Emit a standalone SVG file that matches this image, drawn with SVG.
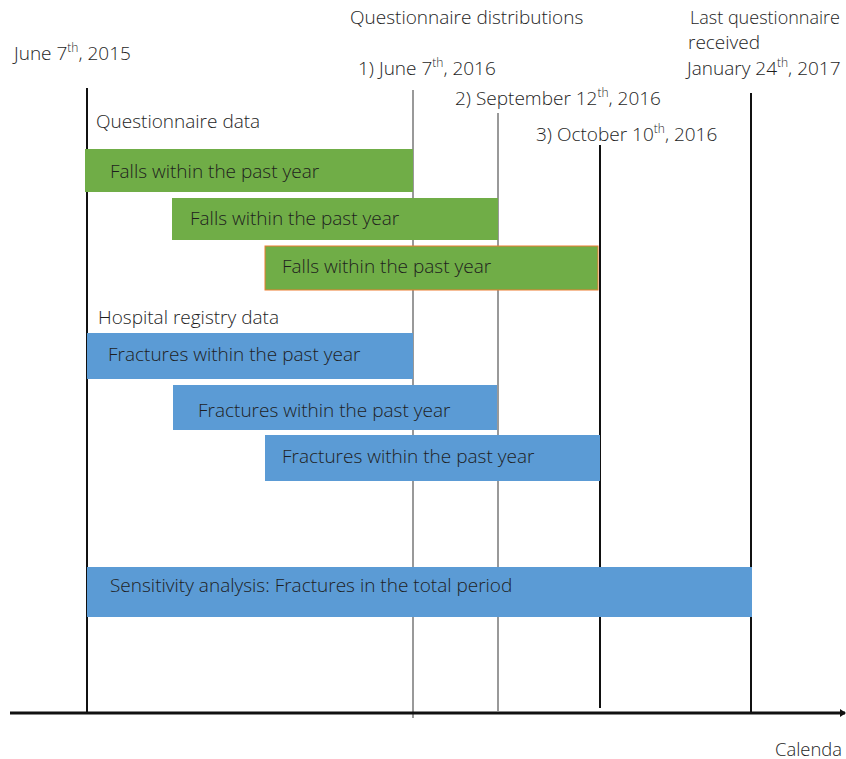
<svg xmlns="http://www.w3.org/2000/svg" width="846" height="759" viewBox="0 0 846 759">
<defs>
<style>
text{font-family:"Open Sans","Noto Sans","Liberation Sans",sans-serif;fill:#1e1e1e;font-weight:300}
.t{font-size:19px}
.b{font-size:19px}
.sup{font-size:12px}
.green{fill:#70AD47}
.blue{fill:#5B9BD5}
.vk{stroke:#111;stroke-width:2;fill:none}
.vg{stroke:#555;stroke-width:1.2;fill:none}
</style>
<marker id="arr" markerWidth="6" markerHeight="8" refX="5" refY="4" orient="auto" markerUnits="userSpaceOnUse">
<path d="M0,0 L6,4 L0,8 z" fill="#111"/>
</marker>
</defs>
<rect width="846" height="759" fill="#fff"/>
<g id="connectors">
<line class="vk" x1="87" y1="88" x2="87" y2="713"/>
<line class="vg" x1="413" y1="90" x2="413" y2="718"/>
<line class="vg" x1="498" y1="113" x2="498" y2="711"/>
<line class="vk" x1="600" y1="145" x2="600" y2="708"/>
<line class="vk" x1="751" y1="93" x2="751" y2="712"/>
<line x1="10" y1="713" x2="845" y2="713" stroke="#111" stroke-width="3" marker-end="url(#arr)"/>
</g>
<g id="labels">
<text class="t" x="14" y="60">June 7<tspan class="sup" dy="-8">th</tspan><tspan dy="8">, 2015</tspan></text>
<text class="t" x="350" y="24">Questionnaire distributions</text>
<text class="t" x="358" y="75">1) June 7<tspan class="sup" dy="-8">th</tspan><tspan dy="8">, 2016</tspan></text>
<text class="t" x="455" y="105">2) September 12<tspan class="sup" dy="-8">th</tspan><tspan dy="8">, 2016</tspan></text>
<text class="t" x="536" y="141">3) October 10<tspan class="sup" dy="-8">th</tspan><tspan dy="8">, 2016</tspan></text>
<text class="t" x="690" y="24" textLength="150" lengthAdjust="spacingAndGlyphs">Last questionnaire</text>
<text class="t" x="688" y="49">received</text>
<text class="t" x="687" y="75">January 24<tspan class="sup" dy="-8">th</tspan><tspan dy="8">, 2017</tspan></text>
<text class="t" x="96" y="128">Questionnaire data</text>
<text class="t" x="98" y="324">Hospital registry data</text>
<text class="t" x="775" y="756" textLength="67" lengthAdjust="spacingAndGlyphs">Calenda</text>
</g>
<g id="falls1"><rect class="green" x="85" y="149" width="328" height="43"/><text class="b" x="110" y="178">Falls within the past year</text></g>
<g id="falls2"><rect class="green" x="172" y="198" width="326" height="42"/><text class="b" x="190" y="225">Falls within the past year</text></g>
<g id="falls3"><rect class="green" x="265" y="246" width="333" height="44" stroke="#ED7D31" stroke-width="1"/><text class="b" x="282" y="273">Falls within the past year</text></g>
<g id="fract1"><rect class="blue" x="87" y="333" width="326" height="46"/><text class="b" x="108" y="361">Fractures within the past year</text></g>
<g id="fract2"><rect class="blue" x="173" y="385" width="324" height="45"/><text class="b" x="198" y="417">Fractures within the past year</text></g>
<g id="fract3"><rect class="blue" x="265" y="435" width="335" height="46"/><text class="b" x="282" y="463">Fractures within the past year</text></g>
<g id="sensitivity"><rect class="blue" x="87" y="567" width="665" height="50"/><text class="b" x="110" y="592">Sensitivity analysis: Fractures in the total period</text></g>
</svg>
